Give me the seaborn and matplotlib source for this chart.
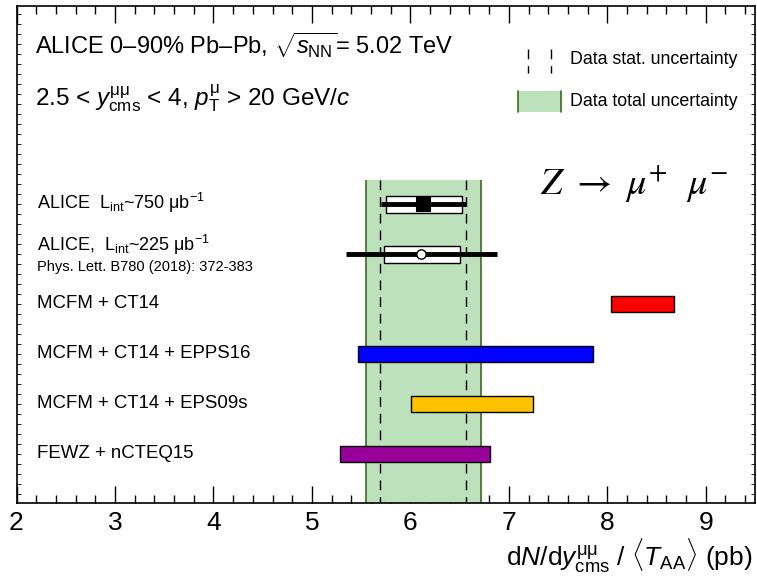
import matplotlib
matplotlib.use("Agg")
import matplotlib.pyplot as plt
import seaborn as sns
import pandas as pd
from matplotlib.ticker import MultipleLocator, NullFormatter
from matplotlib.patches import Rectangle
from matplotlib.lines import Line2D

sns.set_theme(style="ticks")
plt.rcParams["font.family"] = ["Liberation Sans", "DejaVu Sans"]
plt.rcParams["mathtext.fontset"] = "custom"
plt.rcParams["mathtext.rm"] = "Liberation Sans"
plt.rcParams["mathtext.it"] = "Liberation Sans:italic"
plt.rcParams["mathtext.bf"] = "Liberation Sans:bold"
plt.rcParams["mathtext.sf"] = "Liberation Sans"
plt.rcParams["text.color"] = "black"
plt.rcParams["xtick.color"] = "black"
plt.rcParams["ytick.color"] = "black"
plt.rcParams["axes.labelcolor"] = "black"

# ALICE measurements (new and published)
alice_value = [6.13, 6.11]
alice_stat_lo = [5.70, 5.35]
alice_stat_hi = [6.57, 6.88]
alice_syst_lo = [5.75, 5.73]
alice_syst_hi = [6.52, 6.50]

# Model predictions (ranges)
model_labels = ["MCFM + CT14", "MCFM + CT14 + EPPS16",
                "MCFM + CT14 + EPS09s", "FEWZ + nCTEQ15"]
model_lo = [8.04, 5.47, 6.01, 5.29]
model_hi = [8.68, 7.85, 7.25, 6.81]
model_colors = ["#ff0000", "#0000ff", "#ffc200", "#990099"]

# Data uncertainty bands
band_total = [5.55, 6.72]
band_stat = [5.69, 6.56]

x_ticks = [2, 3, 4, 5, 6, 7, 8, 9]

W, H = 757, 583
fig = plt.figure(figsize=(W / 100, H / 100), dpi=100)
ax = fig.add_axes([16.5 / W, 1 - 503 / H, (755 - 16.5) / W, (503 - 6) / H])

y_bottom, y_top = 5.98, -3.96
ax.set_xlim(2, 9.5)
ax.set_ylim(y_bottom, y_top)

alice_rows = [0, 1]
model_rows = [2, 3, 4, 5]
band_top = -0.48

# total uncertainty band and statistical limits
ax.fill_betweenx([band_top, y_bottom], band_total[0], band_total[1],
                 color="#bde1bb", lw=0, zorder=1)
ax.vlines(band_total, band_top, y_bottom, color="#3d6b1e", lw=1.2, zorder=1.5)
ax.vlines(band_stat, band_top, y_bottom, color="black", lw=1.0,
          linestyles=[(0, (7, 5))], zorder=2)

# ALICE systematic boxes and statistical bars
ax.barh(alice_rows, [h - l for l, h in zip(alice_syst_lo, alice_syst_hi)],
        left=alice_syst_lo, height=0.34, color="white", edgecolor="black",
        lw=1.0, zorder=3)
ax.hlines(alice_rows, alice_stat_lo, alice_stat_hi, color="black", lw=3.5, zorder=4)

df_alice = pd.DataFrame({"value": alice_value, "row": alice_rows})
sns.scatterplot(data=df_alice.iloc[[0]], x="value", y="row", marker="s", s=100,
                color="black", edgecolor="black", ax=ax, zorder=5, legend=False)
sns.scatterplot(data=df_alice.iloc[[1]], x="value", y="row", marker="o", s=45,
                color="white", edgecolor="black", linewidth=1.0, ax=ax, zorder=5,
                legend=False)

# model bars
ax.barh(model_rows, [h - l for l, h in zip(model_lo, model_hi)], left=model_lo,
        height=0.32, color=model_colors, edgecolor="black", lw=1.0, zorder=3)

ax.set_xlabel("")
ax.set_ylabel("")

# axes styling
ax.set_xticks(x_ticks)
ax.set_xticklabels([str(t) for t in x_ticks])
ax.xaxis.set_minor_locator(MultipleLocator(0.2))
ax.tick_params(axis="x", which="major", direction="in", length=12, width=1.0,
               top=True, bottom=True, labelsize=19, pad=6)
ax.tick_params(axis="x", which="minor", direction="in", length=6, width=1.0,
               top=True, bottom=True)
ax.set_yticks([])
ax.yaxis.set_minor_locator(MultipleLocator(0.2))
ax.yaxis.set_minor_formatter(NullFormatter())
ax.tick_params(axis="y", which="minor", direction="in", length=3, width=0.6,
               left=True, right=True)
for sp in ax.spines.values():
    sp.set_visible(True)
    sp.set_color("black")
    sp.set_linewidth(1.2)


def fx(px):
    return px / W


def fy(py):
    return 1 - py / H


# header
fig.text(fx(35), fy(45), r"ALICE 0–90% Pb–Pb, $\sqrt{s_{\mathrm{NN}}}$= 5.02 TeV",
         fontsize=17, va="center", ha="left")
fig.text(fx(35), fy(98),
         r"2.5 < $y^{\mathrm{μμ}}_{\mathrm{cms}}$ < 4, $p^{\mathrm{μ}}_{\mathrm{T}}$ > 20 GeV/$c$",
         fontsize=17.5, va="center", ha="left")

# legend
for lx in (528, 551):
    fig.add_artist(Line2D([fx(lx), fx(lx)], [fy(49), fy(73)], color="black",
                          lw=1.0, linestyle=(0, (7, 5)), transform=fig.transFigure))
fig.add_artist(Rectangle((fx(518), fy(112)), fx(561) - fx(518), fy(91) - fy(112),
                         facecolor="#bde1bb", edgecolor="none",
                         transform=fig.transFigure))
for lx in (518, 561):
    fig.add_artist(Line2D([fx(lx), fx(lx)], [fy(91), fy(112)], color="#3d6b1e",
                          lw=1.2, transform=fig.transFigure))
fig.text(fx(570), fy(60), "Data stat. uncertainty", fontsize=12.8, va="center")
fig.text(fx(570), fy(102), "Data total uncertainty", fontsize=12.8, va="center")

# process label
fig.text(fx(540), fy(183), r"$Z\ \rightarrow\ \mu^{+}\ \ \mu^{-}$", fontsize=27.5,
         math_fontfamily="stix", va="center", ha="left")

# row labels
fig.text(fx(37), fy(203), r"ALICE  L$_{\mathrm{int}}$~750 μb$^{-1}$",
         fontsize=13, va="center")
fig.text(fx(37), fy(245), r"ALICE,  L$_{\mathrm{int}}$~225 μb$^{-1}$",
         fontsize=13, va="center")
fig.text(fx(37), fy(267), "Phys. Lett. B780 (2018): 372-383", fontsize=10.5,
         va="center")
for r, lab in zip(model_rows, model_labels):
    fig.text(fx(37), fy(204 + 50 * r), lab, fontsize=13.4, va="center")

# x-axis title
fig.text(fx(752), fy(556),
         r"d$N$/d$y^{\mathrm{μμ}}_{\mathrm{cms}}$ / $\langle T_{\mathrm{AA}} \rangle$ (pb)",
         fontsize=19, va="center", ha="right")

fig.savefig("out.png", dpi=100)
